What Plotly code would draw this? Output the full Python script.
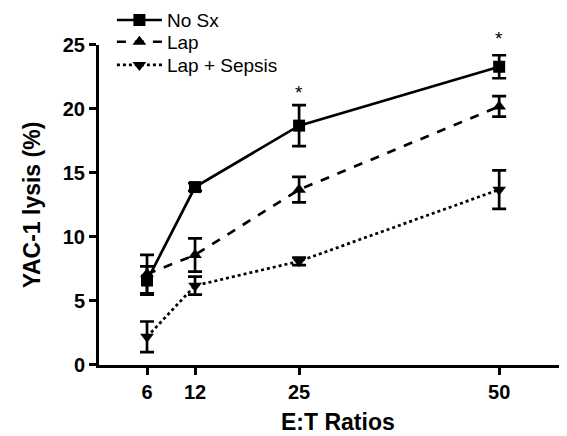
import plotly.graph_objects as go

ratios = [6, 12, 25, 50]
tick_labels = ["6", "12", "25", "50"]

nosx = [6.6, 13.9, 18.7, 23.3]
nosx_err = [1.1, 0.3, 1.6, 0.9]
lap = [7.1, 8.6, 13.7, 20.2]
lap_err = [1.5, 1.3, 1.0, 0.8]
sepsis = [2.2, 6.2, 8.1, 13.7]
sepsis_err = [1.2, 0.7, 0.3, 1.5]

star_x = [25, 50]
star_y = [21.3, 25.5]

Y_MAX = 25
FONT = "Arial, Liberation Sans, sans-serif"

fig = go.Figure()

def add(name, y, err, dash, symbol, legend):
    fig.add_trace(go.Scatter(
        x=ratios, y=y, name=name, mode="lines+markers",
        line=dict(color="black", width=2.7, dash=dash),
        marker=dict(symbol=symbol, size=12, color="black"),
        error_y=dict(type="data", array=err, visible=True, color="black",
                     thickness=2.7, width=7),
        cliponaxis=False, legend=legend,
    ))

add("No Sx", nosx, nosx_err, "solid", "square", "legend")
add("Lap", lap, lap_err, "dash", "triangle-up", "legend2")
add("Lap + Sepsis", sepsis, sepsis_err, "dot", "triangle-down", "legend3")

for sx, sy in zip(star_x, star_y):
    fig.add_annotation(x=sx, xref="x", y=sy / Y_MAX, yref="y domain", text="*",
                       showarrow=False, yanchor="middle",
                       font=dict(family=FONT, size=19, color="black"))

fig.add_annotation(x=0.518, xref="x domain", y=-0.178, yref="y domain",
                   text="<b>E:T Ratios</b>", showarrow=False,
                   xanchor="center", yanchor="middle",
                   font=dict(family=FONT, size=23, color="black"))

def leg(y):
    return dict(x=0.028, y=y, xanchor="left", yanchor="middle",
                font=dict(family=FONT, size=19, color="black"),
                bgcolor="rgba(0,0,0,0)", itemwidth=45)

# page body has an 8px default margin, so the figure is 8px smaller;
# top margin 0 and a shorter y domain keep the legends inside the paper
fig.update_layout(
    width=559, height=428,
    margin=dict(l=91, r=7, t=0, b=71, autoexpand=False),
    paper_bgcolor="white", plot_bgcolor="white",
    font=dict(family=FONT, color="black"),
    showlegend=True,
    legend=leg(0.966),
    legend2=leg(0.905),
    legend3=leg(0.840),
)

fig.update_xaxes(
    range=[0, 57.6], tickvals=ratios, ticktext=tick_labels,
    showgrid=False, zeroline=False,
    showline=True, linecolor="black", linewidth=3,
    ticks="outside", ticklen=7, tickwidth=3, tickcolor="black",
    tickfont=dict(family=FONT, size=20, color="black", weight="bold"),
    automargin=False,
)
fig.update_yaxes(
    range=[0, Y_MAX], tickvals=[0, 5, 10, 15, 20, 25],
    domain=[0, 0.8964],
    showgrid=False, zeroline=False,
    showline=True, linecolor="black", linewidth=3,
    ticks="outside", ticklen=7, tickwidth=3, tickcolor="black",
    tickfont=dict(family=FONT, size=20, color="black", weight="bold"),
    title=dict(text="<b>YAC-1 lysis (%)</b>", font=dict(family=FONT, size=23, color="black"),
               standoff=16),
    automargin=False,
)

fig.write_html("out.html")
